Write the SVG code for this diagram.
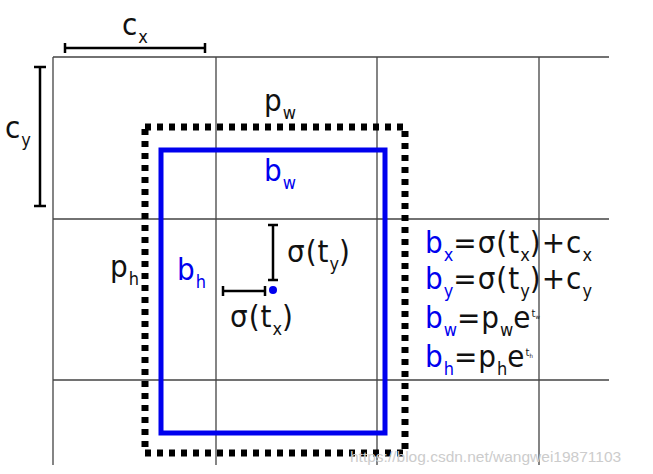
<svg xmlns="http://www.w3.org/2000/svg" width="653" height="474" viewBox="0 0 653 474">
<style>
.g{stroke:#444;stroke-width:1.3;fill:none}
.k{stroke:#000;stroke-width:2.5;fill:none}
text{font-family:"DejaVu Sans Condensed","DejaVu Sans",sans-serif;font-size:31px;fill:#111;letter-spacing:1px}
.s{font-size:18px;letter-spacing:0}
.ss{font-size:11px;letter-spacing:0}
.b{fill:#0000ee}
</style>
<rect width="653" height="474" fill="#fff"/>
<g id="grid" class="g">
<path d="M53 57H609M53 219H609M53 380H609M53 57V465M216 57V465M377 57V465M539 57V465"/>
</g>
<g id="connectors" class="k">
<path d="M65 48H205M65 43V53M205 43V53"/>
<path d="M40 67V206M34 67H46M34 206H46"/>
<path d="M273 225V280M268 225H278M268 280H278"/>
<path d="M223 291H265M223 286V296M265 286V296"/>
</g>
<g id="prior">
<rect x="145" y="127" width="260" height="326" fill="none" stroke="#000" stroke-width="7" stroke-dasharray="6 6"/>
</g>
<g id="box">
<rect x="161" y="150" width="224" height="283" fill="none" stroke="#0000ee" stroke-width="5"/>
<circle cx="273" cy="290" r="4" fill="#0000ee"/>
</g>
<g id="labels">
<text x="122" y="35">c<tspan class="s" dy="8">x</tspan></text>
<text x="5" y="138">c<tspan class="s" dy="8">y</tspan></text>
<text x="264" y="111">p<tspan class="s" dy="8">w</tspan></text>
<text x="264" y="181" class="b">b<tspan class="s" dy="8">w</tspan></text>
<text x="110" y="277">p<tspan class="s" dy="8">h</tspan></text>
<text x="177" y="280" class="b">b<tspan class="s" dy="8">h</tspan></text>
<text x="287" y="262">σ(t<tspan class="s" dy="8">y</tspan><tspan dy="-8">)</tspan></text>
<text x="230" y="327">σ(t<tspan class="s" dy="8">x</tspan><tspan dy="-8">)</tspan></text>
<text x="425" y="253"><tspan class="b">b</tspan><tspan class="s b" dy="8">x</tspan><tspan dy="-8">=σ(t</tspan><tspan class="s" dy="8">x</tspan><tspan dy="-8">)+c</tspan><tspan class="s" dy="8">x</tspan></text>
<text x="425" y="289"><tspan class="b">b</tspan><tspan class="s b" dy="8">y</tspan><tspan dy="-8">=σ(t</tspan><tspan class="s" dy="8">y</tspan><tspan dy="-8">)+c</tspan><tspan class="s" dy="8">y</tspan></text>
<text x="425" y="328"><tspan class="b">b</tspan><tspan class="s b" dy="8">w</tspan><tspan dy="-8">=p</tspan><tspan class="s" dy="8">w</tspan><tspan dy="-8">e</tspan><tspan class="ss" dy="-11">t</tspan><tspan style="font-size:6px;letter-spacing:0" dy="2">w</tspan></text>
<text x="425" y="367"><tspan class="b">b</tspan><tspan class="s b" dy="8">h</tspan><tspan dy="-8">=p</tspan><tspan class="s" dy="8">h</tspan><tspan dy="-8">e</tspan><tspan class="ss" dy="-11">t</tspan><tspan style="font-size:6px;letter-spacing:0" dy="2">h</tspan></text>
<text x="350" y="462" style="font-family:'Liberation Sans',sans-serif;font-size:15.5px;fill:#ccc;letter-spacing:0">https://blog.csdn.net/wangwei19871103</text>
</g>
</svg>
